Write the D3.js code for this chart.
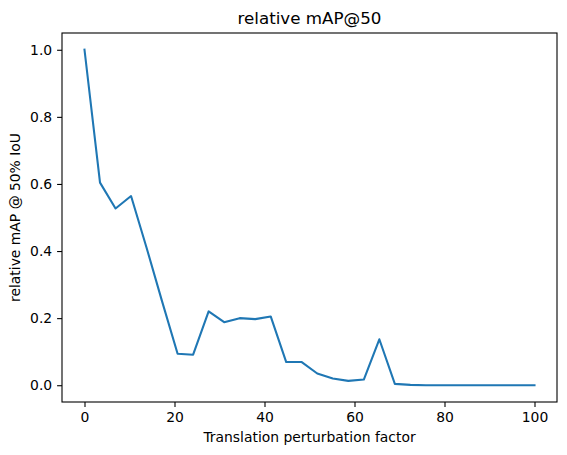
<!DOCTYPE html>
<html>
<head>
<meta charset="utf-8">
<script src="https://cdn.jsdelivr.net/npm/d3@7"></script>
<style>
  body { margin: 0; background: #fff; }
  svg { display: block; font-family: "DejaVu Sans", sans-serif; }
</style>
</head>
<body>
<svg id="chart"></svg>
<script>
// perturbation factors (x) and relative mAP@50 (y)
const factors = [0, 3.448, 6.897, 10.345, 13.793, 17.241, 20.69, 24.138, 27.586, 31.034,
  34.483, 37.931, 41.379, 44.828, 48.276, 51.724, 55.172, 58.621, 62.069, 65.517,
  68.966, 72.414, 75.862, 79.31, 82.759, 86.207, 89.655, 93.103, 96.552, 100]
const relMap = [1.0, 0.604, 0.527, 0.564, 0.41, 0.25, 0.094, 0.091, 0.22, 0.188,
  0.2, 0.197, 0.205, 0.069, 0.069, 0.035, 0.02, 0.013, 0.017, 0.137,
  0.004, 0.001, 0, 0, 0, 0, 0, 0, 0, 0]
const xTicks = [0, 20, 40, 60, 80, 100]
const yTicks = [0.0, 0.2, 0.4, 0.6, 0.8, 1.0]

const width = 567
const height = 455
const margin = { top: 33, right: 10, bottom: 53, left: 62 }

let data = factors.map(function(f, i) {
  return { x: f, y: relMap[i] }
})

let svg = d3.select("#chart")
  .attr("width", width)
  .attr("height", height)

let x = d3.scaleLinear()
  .domain([-5, 105])
  .range([margin.left, width - margin.right])

let y = d3.scaleLinear()
  .domain([-0.05, 1.05])
  .range([height - margin.bottom, margin.top])

let xAxis = d3.axisBottom(x)
  .tickValues(xTicks)
  .tickFormat(d3.format("d"))
  .tickSizeInner(4.9)
  .tickSizeOuter(0)
  .tickPadding(4.9)

let yAxis = d3.axisLeft(y)
  .tickValues(yTicks)
  .tickFormat(d3.format(".1f"))
  .tickSizeInner(4.9)
  .tickSizeOuter(0)
  .tickPadding(4.9)

// the line
let line = d3.line()
  .x(function(d) { return x(d.x) })
  .y(function(d) { return y(d.y) })

svg.append("path")
  .datum(data)
  .attr("fill", "none")
  .attr("stroke", "#1f77b4")
  .attr("stroke-width", 2.08)
  .attr("stroke-linejoin", "round")
  .attr("stroke-linecap", "square")
  .attr("d", line)

// axes
let gx = svg.append("g")
  .attr("transform", "translate(0," + (height - margin.bottom) + ")")
  .call(xAxis)

let gy = svg.append("g")
  .attr("transform", "translate(" + margin.left + ",0)")
  .call(yAxis)

svg.selectAll(".domain").remove()
svg.selectAll(".tick line").attr("stroke", "#000").attr("stroke-width", 1.1)
svg.selectAll(".tick text")
  .attr("fill", "#000")
  .style("font-size", "13.9px")
  .style("font-family", "DejaVu Sans")

// frame
svg.append("rect")
  .attr("x", margin.left)
  .attr("y", margin.top)
  .attr("width", width - margin.left - margin.right)
  .attr("height", height - margin.top - margin.bottom)
  .attr("fill", "none")
  .attr("stroke", "#000")
  .attr("stroke-width", 1.1)

// title
svg.append("text")
  .attr("x", (margin.left + width - margin.right) / 2)
  .attr("y", 24)
  .attr("text-anchor", "middle")
  .style("font-size", "16.7px")
  .text("relative mAP@50")

// x label
svg.append("text")
  .attr("x", (margin.left + width - margin.right) / 2)
  .attr("y", 442)
  .attr("text-anchor", "middle")
  .style("font-size", "13.9px")
  .text("Translation perturbation factor")

// y label
svg.append("text")
  .attr("transform", "translate(20," + ((margin.top + height - margin.bottom) / 2) + ") rotate(-90)")
  .attr("text-anchor", "middle")
  .style("font-size", "13.9px")
  .text("relative mAP @ 50% IoU")
</script>
</body>
</html>
